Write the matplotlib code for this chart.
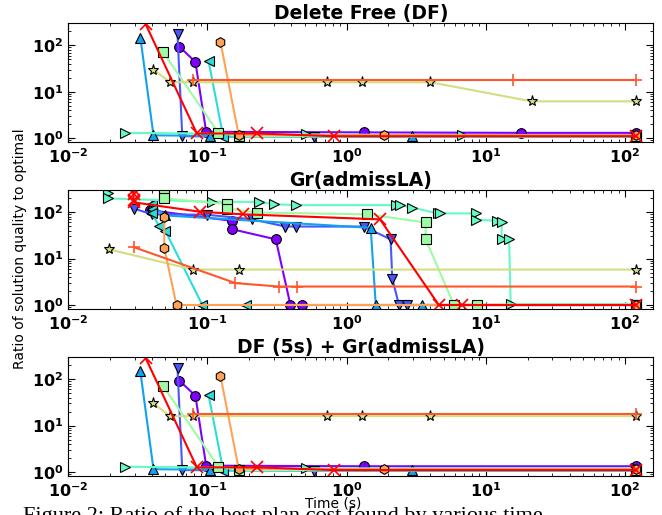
import matplotlib
matplotlib.use("Agg")
import matplotlib.pyplot as plt
import numpy as np
from matplotlib.ticker import FuncFormatter, LogLocator

# series order follows the rainbow colormap: purple ... red
markers = ['o', 'v', '^', '<', '>', 's', '*', 'h', '+', 'x']
panel_titles = ["Delete Free (DF)", "Gr(admissLA)", "DF (5s) + Gr(admissLA)"]

# panel 1: Delete Free (DF)
df_t = [
    [0.063, 0.082, 0.098, 1.33, 17.9, 120],
    [0.061, 0.066, 0.58, 120],
    [0.033, 0.041, 0.104, 2.97, 120],
    [0.102, 0.13, 120],
    [0.0257, 0.51, 6.8, 120],
    [0.048, 0.12, 0.17, 120],
    [0.041, 0.054, 0.079, 0.72, 1.3, 4.0, 21.4, 120],
    [0.124, 0.168, 1.85, 120],
    [0.079, 15.7, 120],
    [0.036, 0.084, 0.228, 0.81, 120],
]
df_r = [
    [93, 44, 1.37, 1.33, 1.3, 1.3],
    [173, 1.1, 1.07, 1.07],
    [147, 1.15, 1.12, 1.1, 1.1],
    [45.6, 1.07, 1.07],
    [1.3, 1.2, 1.16, 1.16],
    [72, 1.3, 1.1, 1.1],
    [30, 16, 16, 16, 16, 16, 6.2, 6.2],
    [120, 1.16, 1.16, 1.16],
    [18.2, 18.2, 18.2],
    [286, 1.26, 1.26, 1.1, 1.1],
]

# panel 2: Gr(admissLA)
gr_t = [
    [0.039, 0.15, 0.15, 0.31, 0.395, 0.48, 120],
    [0.0295, 0.04, 0.1, 0.21, 0.364, 0.43, 1.33, 2.07, 2.13, 2.38, 2.7, 120],
    [0.04, 0.05, 1.49, 1.62, 3.5, 120],
    [0.04, 0.04, 0.04, 0.045, 0.05, 0.092, 0.19, 120],
    [0.0192, 0.0192, 0.108, 0.234, 0.30, 0.43, 2.25, 2.4, 2.97, 4.5, 4.7,
     8.5, 8.5, 12.1, 13, 13, 14.7, 15.1, 120],
    [0.049, 0.049, 0.049, 0.049, 0.138, 0.138, 0.228, 1.41, 3.7, 3.7, 5.9, 8.7, 120],
    [0.0198, 0.079, 0.168, 120],
    [0.049, 0.049, 0.06, 120],
    [0.0295, 0.159, 0.326, 0.44, 120],
    [0.0295, 0.0295, 0.0295, 0.0295, 0.089, 0.18, 1.74, 4.6, 6.8, 120],
]
gr_r = [
    [110, 65, 43, 26, 1.0, 1.0, 1.0],
    [120, 90, 88, 70, 49, 49, 49, 26, 3.7, 1.0, 1.0, 1.0],
    [140, 85, 46, 1.0, 1.0, 1.0],
    [150, 120, 95, 50, 39, 1.0, 1.0, 1.0],
    [260, 198, 167, 167, 149, 142, 142, 142, 126, 94, 94, 94, 69, 65, 62,
     26.8, 26.8, 1.05, 1.05],
    [400, 350, 260, 198, 149, 120, 98, 90, 60, 26, 1.02, 1.02, 1.02],
    [15.7, 5.8, 5.8, 5.8],
    [80, 17, 1.0, 1.0],
    [17.7, 2.96, 2.5, 2.5, 2.5],
    [305, 245, 185, 163, 102, 90, 70, 1.0, 1.0, 1.0],
]

# panel 3: DF (5s) + Gr(admissLA)
dfgr_t = [
    [0.063, 0.082, 0.098, 1.33, 120],
    [0.061, 0.066, 0.58, 120],
    [0.033, 0.041, 0.104, 2.97, 120],
    [0.102, 0.13, 120],
    [0.0257, 0.51, 120],
    [0.048, 0.12, 0.17, 120],
    [0.041, 0.054, 0.079, 0.72, 1.3, 4.0, 120],
    [0.124, 0.168, 1.85, 120],
    [0.079, 120],
    [0.036, 0.084, 0.228, 0.81, 120],
]
dfgr_r = [
    [93, 44, 1.37, 1.33, 1.33],
    [173, 1.1, 1.07, 1.07],
    [147, 1.15, 1.12, 1.1, 1.1],
    [45.6, 1.07, 1.07],
    [1.3, 1.2, 1.2],
    [72, 1.3, 1.1, 1.1],
    [30, 16, 16, 16, 16, 16, 16],
    [120, 1.16, 1.16, 1.16],
    [18.2, 18.2],
    [286, 1.26, 1.26, 1.1, 1.1],
]

colors = plt.cm.rainbow(np.linspace(0, 1, len(markers)))


def decade_label(v, pos):
    return r'$\mathbf{10^{%d}}$' % int(round(np.log10(v)))


fig = plt.figure(figsize=(6.62, 5.15), dpi=100)
bottoms = [0.724, 0.400, 0.0757]
all_t = [df_t, gr_t, dfgr_t]
all_r = [df_r, gr_r, dfgr_r]

for k in range(3):
    ax = fig.add_axes([0.103, bottoms[k], 0.884, 0.231])
    for i in range(len(markers)):
        m = markers[i]
        if m in ('x', '+'):
            ax.plot(all_t[k][i], all_r[k][i], color=colors[i], marker=m,
                    ms=8, mew=1.2, lw=1.5)
        else:
            ax.plot(all_t[k][i], all_r[k][i], color=colors[i], marker=m,
                    ms=7 if m != '*' else 8, mfc=colors[i], mec='black',
                    mew=0.8, lw=1.5)
    ax.set_xscale('log')
    ax.set_yscale('log')
    ax.set_xlim(0.01, 160)
    ax.set_ylim(0.82, 300)
    ax.xaxis.set_major_locator(LogLocator(base=10, numticks=10))
    ax.yaxis.set_major_locator(LogLocator(base=10, numticks=10))
    ax.xaxis.set_major_formatter(FuncFormatter(decade_label))
    ax.yaxis.set_major_formatter(FuncFormatter(decade_label))
    ax.tick_params(which='both', direction='in', top=True, right=True,
                   labelsize=11.5)
    ax.tick_params(which='major', length=5)
    ax.tick_params(which='minor', length=2.5)
    ax.set_title(panel_titles[k], fontsize=13.5, fontweight='bold', pad=3)

fig.text(0.03, 0.518, "Ratio of solution quality to optimal", rotation=90,
         ha='center', va='center', fontsize=10)
fig.text(0.503, 0.023, "Time (s)", ha='center', va='center', fontsize=10)
# caption of the source figure, mostly cut off by the bottom edge
fig.text(0.035, -0.012, "Figure 2: Ratio of the best plan cost found by various time",
         ha='left', va='baseline', fontsize=16, family='Liberation Serif')

fig.savefig("out.png", dpi=100)
